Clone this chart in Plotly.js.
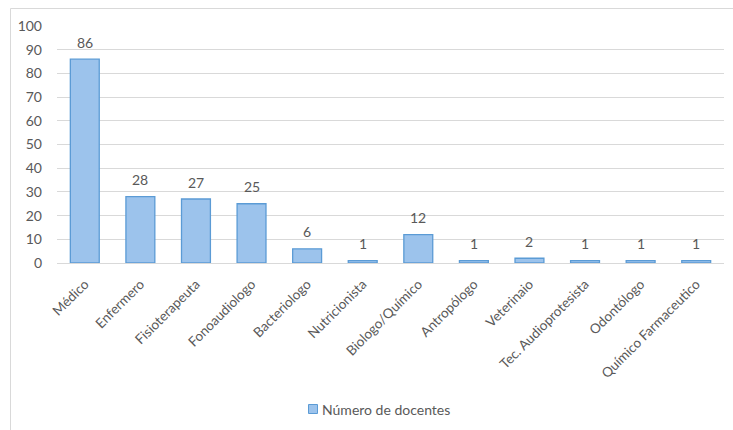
<!DOCTYPE html>
<html>
<head>
<meta charset="utf-8">
<script src="https://cdn.plot.ly/plotly-3.0.1.min.js"></script>
<style>html,body{margin:0;padding:0;background:#fff;}#chart{width:733px;height:430px;}</style>
</head>
<body>
<div id="chart"></div>
<script>
const categories = ["Médico","Enfermero","Fisioterapeuta","Fonoaudiologo","Bacteriologo","Nutricionista","Biologo/Químico","Antropólogo","Veterinaio","Tec. Audioprotesista","Odontólogo","Químico Farmaceutico"];
const values = [86,28,27,25,6,1,12,1,2,1,1,1];
const seriesName = "Número de docentes";
const yTicks = [0,10,20,30,40,50,60,70,80,90,100];

const W = 733, H = 430;
const L = 57, R = 724, T = 26, B = 263;
const FONT = 'Lato, "Open Sans", sans-serif';
const GRAY = '#595959';
const px = v => (v - L) / (R - L);
const pyp = yPix => (B - yPix) / (B - T);

const trace = {
  type: 'bar',
  x: categories,
  y: values,
  name: seriesName,
  cliponaxis: false,
  marker: {color: '#9cc3ec', line: {color: '#5b9bd5', width: 1.3}},
  width: 0.52,
  showlegend: false
};

const valueLabels = categories.map((c, i) => ({
  xref: 'x', yref: 'y', x: c, y: values[i], yshift: 17, yanchor: 'middle',
  text: String(values[i]), showarrow: false,
  font: {family: FONT, size: 14, color: GRAY}
}));

const layout = {
  width: W, height: H,
  margin: {l: L, r: W - R, t: T, b: H - B, pad: 0, autoexpand: false},
  paper_bgcolor: '#ffffff',
  plot_bgcolor: '#ffffff',
  font: {family: FONT, size: 14, color: GRAY},
  showlegend: false,
  xaxis: {
    tickangle: -45, showgrid: false, showline: true, linecolor: '#d9d9d9', linewidth: 1,
    ticks: '', ticklabelstandoff: 7, tickfont: {size: 13.5, color: GRAY}, automargin: false
  },
  yaxis: {
    range: [0, 100], tickvals: yTicks, showgrid: true, gridcolor: '#d9d9d9', gridwidth: 1,
    zeroline: false, showline: false, ticks: '', ticklen: 0, ticklabelstandoff: 14,
    tickfont: {size: 14, color: GRAY}, automargin: false
  },
  shapes: [
    {type: 'line', xref: 'paper', yref: 'paper', x0: px(10.5), x1: px(10.5), y0: pyp(8.5), y1: pyp(440), line: {color: '#d9d9d9', width: 1}},
    {type: 'line', xref: 'paper', yref: 'paper', x0: px(10.5), x1: px(740), y0: pyp(8.5), y1: pyp(8.5), line: {color: '#d9d9d9', width: 1}},
    {type: 'rect', xref: 'paper', yref: 'paper', x0: px(308.5), x1: px(317.5), y0: pyp(413.5), y1: pyp(404.5),
     fillcolor: '#9cc3ec', line: {color: '#5b9bd5', width: 1}}
  ],
  annotations: valueLabels.concat([
    {xref: 'paper', yref: 'paper', x: px(320), y: pyp(409), xanchor: 'left', yanchor: 'middle',
     text: seriesName, showarrow: false, font: {family: FONT, size: 14, color: GRAY}}
  ])
};

Plotly.newPlot('chart', [trace], layout, {displayModeBar: false, staticPlot: true});
</script>
</body>
</html>
